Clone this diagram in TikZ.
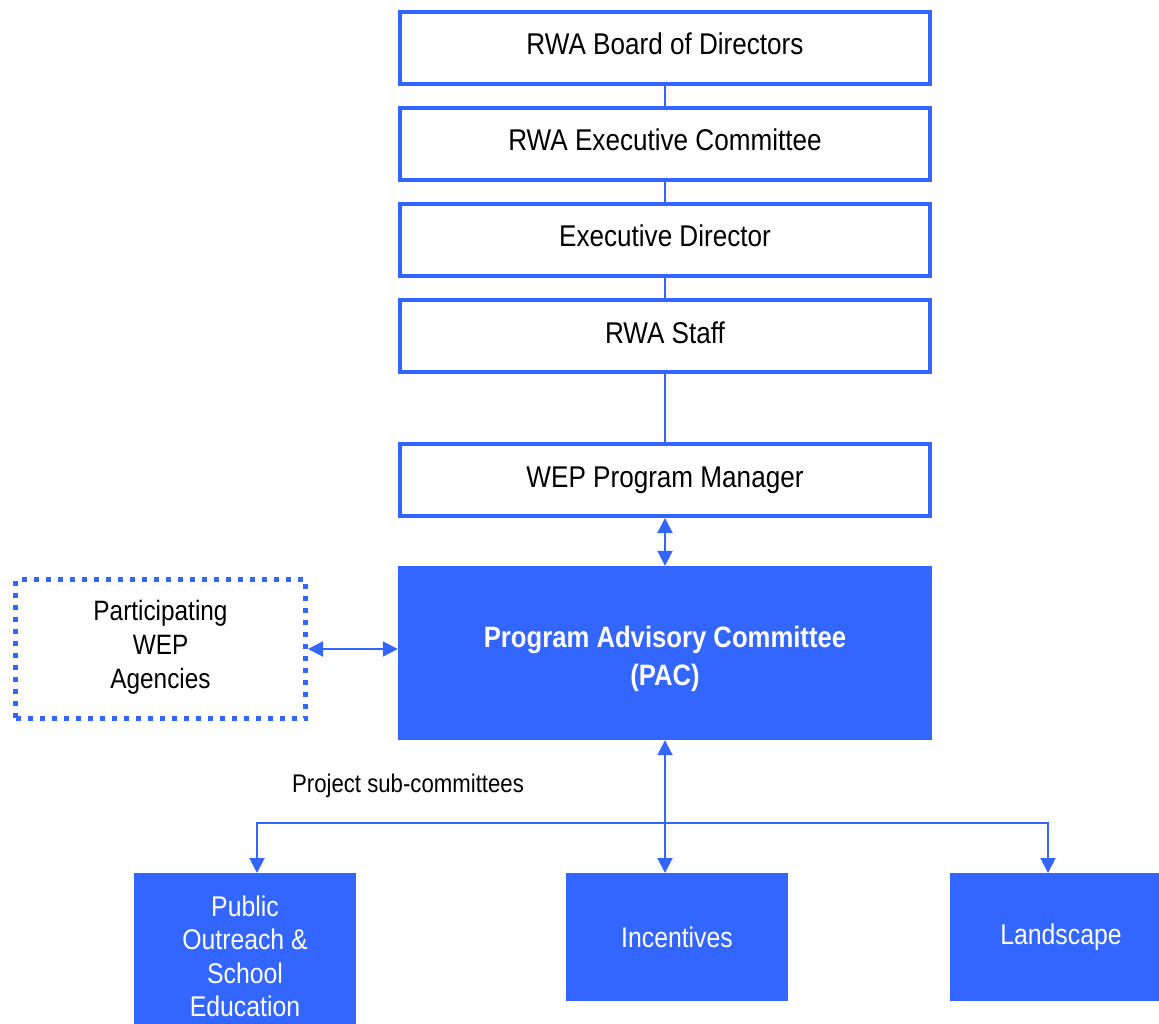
\documentclass[tikz,border=0pt]{standalone}
\usepackage{fontspec}
\setmainfont[FakeStretch=0.87]{Liberation Sans}
\usetikzlibrary{arrows.meta}
\definecolor{wb}{HTML}{3366FF}
\tikzset{
  outl/.style={draw=wb, line width=4pt, fill=white, minimum width=530pt, minimum height=72pt, inner sep=0pt, text height=22pt, text depth=8pt, font=\fontsize{30}{34}\selectfont},
  solid/.style={fill=wb, text=white, inner sep=0pt, align=center, font=\fontsize{28.5}{33.5}\selectfont},
  conn/.style={draw=wb, line width=2pt},
  tip/.style={-{Triangle[width=15pt,length=15pt]}},
  dtip/.style={{Triangle[width=15pt,length=15pt]}-{Triangle[width=15pt,length=15pt]}}
}
\begin{document}
\begin{tikzpicture}[x=1pt,y=-1pt]
\useasboundingbox (0,0) rectangle (1159,1024);
\node[outl] (bod) at (665,48) {RWA Board of Directors};
\node[outl] (exc) at (665,144) {RWA Executive Committee};
\node[outl] (ed) at (665,240) {Executive Director};
\node[outl] (staff) at (665,336) {RWA Staff};
\node[outl] (wep) at (665,480) {WEP Program Manager};
\node[solid, minimum width=534pt, minimum height=174pt, font=\bfseries\fontsize{29.5}{38}\selectfont] (pac) at (665,653) {\rule{0pt}{34pt}Program Advisory Committee\\(PAC)};
\node[draw=wb, line width=5pt, dash pattern=on 5pt off 7pt, minimum width=290pt, minimum height=139pt, inner sep=0pt, align=center, font=\fontsize{28}{34}\selectfont] (agc) at (160.5,649) {Participating\\WEP\\Agencies\rule[-10pt]{0pt}{10pt}};
\node[solid, minimum width=222pt, minimum height=166pt, anchor=north] (pub) at (245,873) {Public\\Outreach \&\\School\\Education};
\node[solid, minimum width=222pt, minimum height=128pt, anchor=north] (inc) at (677,873) {Incentives};
\node[solid, minimum width=222pt, minimum height=128pt, anchor=north] (land) at (1061,873) {Landscape};
\node[font=\fontsize{25.5}{30}\selectfont, anchor=center] (lbl) at (408,786) {Project sub-committees};
\draw[conn] (bod) -- (exc);
\draw[conn] (exc) -- (ed);
\draw[conn] (ed) -- (staff);
\draw[conn] (staff) -- (wep);
\draw[conn,dtip] (wep.south) -- (pac.north);
\draw[conn,dtip] (agc.east) -- (pac.west |- agc.east);
\draw[conn,dtip] (pac.south) -- (pac.south |- inc.north);
\coordinate (jn) at (665,823);
\draw[conn,tip] (jn) -| ([xshift=12pt]pub.north);
\draw[conn,tip] (jn) -| ([xshift=-13pt]land.north);
\end{tikzpicture}
\end{document}
